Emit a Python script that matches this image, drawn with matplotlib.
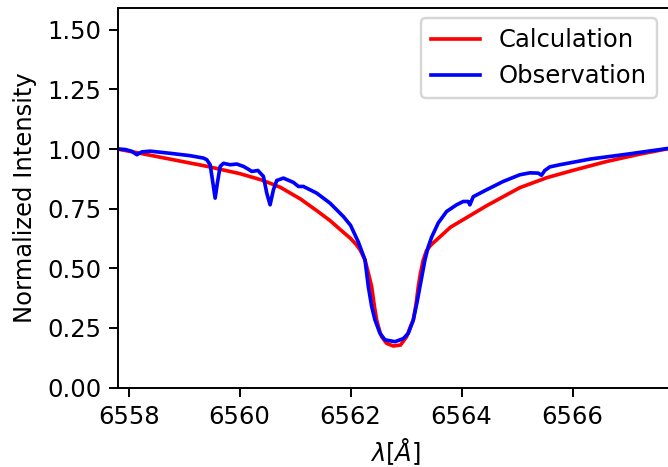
import matplotlib
matplotlib.use("Agg")
import matplotlib.pyplot as plt

calc_wl = [6557.80, 6558.30, 6558.87, 6559.40, 6560.00, 6560.40, 6560.73, 6561.10,
           6561.40, 6561.63, 6561.81, 6562.00, 6562.10, 6562.17, 6562.26, 6562.32,
           6562.38, 6562.43, 6562.47, 6562.52, 6562.56, 6562.65, 6562.77, 6562.90,
           6563.01, 6563.07, 6563.13, 6563.18, 6563.22, 6563.26, 6563.31, 6563.37,
           6563.45, 6563.55, 6563.80, 6564.45, 6565.05, 6565.54, 6566.00, 6566.62,
           6567.20, 6567.80]
calc_int = [1.000, 0.978, 0.952, 0.928, 0.897, 0.870, 0.840, 0.790,
            0.740, 0.700, 0.663, 0.625, 0.600, 0.578, 0.535, 0.480,
            0.423, 0.340, 0.283, 0.240, 0.213, 0.185, 0.174, 0.178,
            0.213, 0.250, 0.283, 0.350, 0.423, 0.480, 0.535, 0.575,
            0.598, 0.619, 0.672, 0.762, 0.838, 0.880, 0.910, 0.948,
            0.978, 1.005]

obs_wl = [6557.80, 6557.94, 6558.06, 6558.15, 6558.24, 6558.39, 6558.75, 6559.11,
          6559.35, 6559.41, 6559.47, 6559.52, 6559.56, 6559.60, 6559.65, 6559.71,
          6559.83, 6559.95, 6560.07, 6560.16, 6560.22, 6560.33, 6560.43, 6560.49,
          6560.55, 6560.61, 6560.67, 6560.79, 6560.97, 6561.06, 6561.15, 6561.39,
          6561.63, 6561.87, 6562.00, 6562.08, 6562.14, 6562.26, 6562.32, 6562.38,
          6562.44, 6562.53, 6562.62, 6562.80, 6562.95, 6563.04, 6563.13, 6563.20,
          6563.25, 6563.34, 6563.40, 6563.46, 6563.58, 6563.73, 6563.91, 6564.03,
          6564.12, 6564.15, 6564.21, 6564.45, 6564.75, 6565.05, 6565.23, 6565.38,
          6565.44, 6565.50, 6565.59, 6565.77, 6566.32, 6566.91, 6567.80]
obs_int = [1.000, 0.998, 0.990, 0.976, 0.988, 0.991, 0.982, 0.972,
           0.962, 0.955, 0.934, 0.857, 0.794, 0.857, 0.927, 0.940,
           0.934, 0.937, 0.927, 0.915, 0.906, 0.910, 0.885, 0.815,
           0.766, 0.829, 0.868, 0.878, 0.860, 0.843, 0.843, 0.815,
           0.773, 0.717, 0.680, 0.640, 0.610, 0.535, 0.423, 0.340,
           0.283, 0.227, 0.200, 0.192, 0.205, 0.227, 0.283, 0.360,
           0.423, 0.535, 0.590, 0.630, 0.690, 0.738, 0.766, 0.780,
           0.780, 0.766, 0.800, 0.829, 0.864, 0.892, 0.900, 0.899,
           0.890, 0.910, 0.925, 0.934, 0.958, 0.976, 1.005]

dpi = 175
fig = plt.figure(figsize=(668 / dpi, 467 / dpi), dpi=dpi)
W, H = 668, 467
left_px, bottom_px, top_px = 118.3, 387.5, 8.3
xmin, xmax = 6557.815, 6567.8
px_per_A = 55.5
width_px = (xmax - xmin) * px_per_A
ax = fig.add_axes([left_px / W, 1 - bottom_px / H, width_px / W, (bottom_px - top_px) / H])

ax.plot(calc_wl, calc_int, color="red", lw=1.5, label="Calculation")
ax.plot(obs_wl, obs_int, color="blue", lw=1.5, label="Observation")

ax.set_xlim(xmin, xmax)
ax.set_ylim(0, 1.59)
ax.set_xticks([6558, 6560, 6562, 6564, 6566])
ax.set_yticks([0.0, 0.25, 0.5, 0.75, 1.0, 1.25, 1.5])
ax.set_xlabel(r"$\lambda[Å]$", labelpad=3)
ax.set_ylabel("Normalized Intensity")
ax.legend(loc="upper right", bbox_to_anchor=(0.9715, 0.9736), borderaxespad=0)

fig.savefig("out.png", dpi=dpi)
